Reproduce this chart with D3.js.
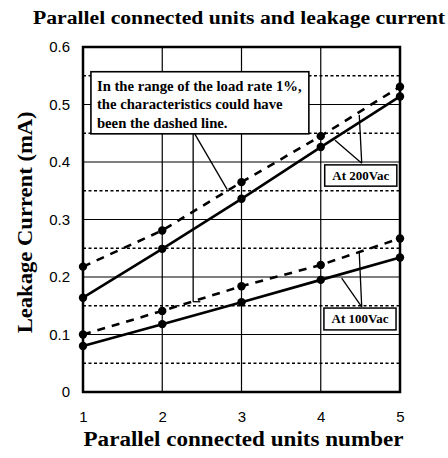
<!DOCTYPE html>
<html>
<head>
<meta charset="utf-8">
<script src="https://cdn.jsdelivr.net/npm/d3@7"></script>
<style>
  body { margin: 0; background: #fff; }
  text { fill: #000; }
</style>
</head>
<body>
<script>
// Data
var units = [1, 2, 3, 4, 5];
var solid200 = [0.164, 0.249, 0.336, 0.426, 0.514];
var dashed200 = [0.218, 0.281, 0.365, 0.445, 0.531];
var solid100 = [0.080, 0.118, 0.156, 0.195, 0.234];
var dashed100 = [0.100, 0.141, 0.184, 0.221, 0.267];
var yTicks = [0, 0.1, 0.2, 0.3, 0.4, 0.5, 0.6];
var yMinor = [0.05, 0.15, 0.25, 0.35, 0.45, 0.55];
var noteLines = ["In the range of the load rate 1%,", "the characteristics  could have", "been the dashed line."];

var svg = d3.select("body").append("svg").attr("width", 448).attr("height", 458);

var x = d3.scaleLinear().domain([1, 5]).range([83, 400]);
var y = d3.scaleLinear().domain([0, 0.6]).range([392, 47]);

var serif = "'Liberation Serif', 'Times New Roman', serif";
var sans = "'Liberation Sans', Arial, sans-serif";

// Title
svg.append("text").text("Parallel connected units and leakage current")
    .attr("x", 239).attr("y", 24).attr("text-anchor", "middle")
    .style("font-family", serif).style("font-weight", "bold").style("font-size", "18px")
    .attr("textLength", 412).attr("lengthAdjust", "spacingAndGlyphs");

// Grid: dotted minor lines
svg.append("g").selectAll("line").data(yMinor).enter().append("line")
    .attr("x1", x(1)).attr("x2", x(5))
    .attr("y1", function(d) { return y(d); }).attr("y2", function(d) { return y(d); })
    .attr("stroke", "#000").attr("stroke-width", 1.3).attr("stroke-dasharray", "3,2.5");

// Grid: solid major lines
svg.append("g").selectAll("line").data(yTicks.slice(1, 6)).enter().append("line")
    .attr("x1", x(1)).attr("x2", x(5))
    .attr("y1", function(d) { return y(d); }).attr("y2", function(d) { return y(d); })
    .attr("stroke", "#000").attr("stroke-width", 1.2);
svg.append("g").selectAll("line").data(units.slice(1, 4)).enter().append("line")
    .attr("x1", function(d) { return x(d); }).attr("x2", function(d) { return x(d); })
    .attr("y1", y(0)).attr("y2", y(0.6))
    .attr("stroke", "#000").attr("stroke-width", 1.2);

// Axes (labels only, frame drawn separately)
var yAxis = svg.append("g").attr("transform", "translate(" + (x(1) - 13) + ",0)")
    .call(d3.axisLeft(y).tickValues(yTicks).tickSize(0).tickFormat(function(d) { return d === 0 ? "0" : d3.format(".1f")(d); }));
yAxis.select(".domain").remove();
yAxis.selectAll("text").style("font-family", sans).style("font-size", "15px").attr("x", 0);

var xAxis = svg.append("g").attr("transform", "translate(0," + (y(0) + 16) + ")")
    .call(d3.axisBottom(x).tickValues(units).tickSize(0).tickFormat(d3.format("d")));
xAxis.select(".domain").remove();
xAxis.selectAll("text").style("font-family", sans).style("font-size", "15px").attr("dy", "0.71em");

// Frame
svg.append("rect").attr("x", x(1)).attr("y", y(0.6))
    .attr("width", x(5) - x(1)).attr("height", y(0) - y(0.6))
    .attr("fill", "none").attr("stroke", "#000").attr("stroke-width", 2.5);

// Axis titles
svg.append("text").text("Parallel connected units number")
    .attr("x", (x(1) + x(5)) / 2 + 2).attr("y", 446).attr("text-anchor", "middle")
    .style("font-family", serif).style("font-weight", "bold").style("font-size", "20px")
    .attr("textLength", 320).attr("lengthAdjust", "spacingAndGlyphs");
svg.append("text").text("Leakage Current (mA)")
    .attr("transform", "translate(32," + y(0.295) + ") rotate(-90)").attr("text-anchor", "middle")
    .style("font-family", serif).style("font-weight", "bold").style("font-size", "20px")
    .attr("textLength", 222).attr("lengthAdjust", "spacingAndGlyphs");

// Series
var series = [
    { v: dashed200, dash: "8,7" },
    { v: solid200, dash: null },
    { v: dashed100, dash: "8,7" },
    { v: solid100, dash: null }
];
var line = d3.line().x(function(d) { return x(d[0]); }).y(function(d) { return y(d[1]); });

series.forEach(function(s) {
    var pts = d3.zip(units, s.v);
    svg.append("path").datum(pts).attr("d", line)
        .attr("fill", "none").attr("stroke", "#000").attr("stroke-width", 2.6)
        .attr("stroke-dasharray", s.dash);
    svg.append("g").selectAll("circle").data(pts).enter().append("circle")
        .attr("cx", function(d) { return x(d[0]); }).attr("cy", function(d) { return y(d[1]); })
        .attr("r", 4.2).attr("fill", "#000");
});

// Annotation: note box
var note = svg.append("g");
note.append("line").attr("x1", x(2.39)).attr("y1", y(0.449)).attr("x2", x(2.39)).attr("y2", y(0.157))
    .attr("stroke", "#000").attr("stroke-width", 1.3);
note.append("line").attr("x1", x(2.39)).attr("y1", y(0.157)).attr("x2", x(2.48)).attr("y2", y(0.157))
    .attr("stroke", "#000").attr("stroke-width", 1.3);
note.append("line").attr("x1", x(2.41)).attr("y1", y(0.449)).attr("x2", x(2.82)).attr("y2", y(0.352))
    .attr("stroke", "#000").attr("stroke-width", 1.3);
note.append("rect").attr("x", x(1.10)).attr("y", y(0.557))
    .attr("width", x(3.85) - x(1.10)).attr("height", y(0.449) - y(0.557))
    .attr("fill", "#fff").attr("stroke", "#000").attr("stroke-width", 1.6);
note.selectAll("text").data(noteLines).enter().append("text")
    .text(function(d) { return d; })
    .attr("x", x(1.10) + 6).attr("y", function(d, i) { return y(0.557) + 19 + i * 18.5; })
    .style("font-family", serif).style("font-weight", "bold").style("font-size", "14.7px");

// Voltage labels
var labels = [
    { t: "At 200Vac", box: [4.05, 4.96, 0.395, 0.358], from: [4.517, 0.398], to: [[4.486, 0.482], [4.18, 0.438]] },
    { t: "At 100Vac", box: [4.04, 4.95, 0.146, 0.108], from: [4.517, 0.148], to: [[4.486, 0.242], [4.264, 0.198]] }
];
labels.forEach(function(l) {
    var g = svg.append("g");
    l.to.forEach(function(p) {
        g.append("line").attr("x1", x(l.from[0])).attr("y1", y(l.from[1]))
            .attr("x2", x(p[0])).attr("y2", y(p[1]))
            .attr("stroke", "#000").attr("stroke-width", 1.3);
    });
    g.append("rect").attr("x", x(l.box[0])).attr("y", y(l.box[2]))
        .attr("width", x(l.box[1]) - x(l.box[0])).attr("height", y(l.box[3]) - y(l.box[2]))
        .attr("fill", "#fff").attr("stroke", "#000").attr("stroke-width", 1.5);
    g.append("text").text(l.t)
        .attr("x", (x(l.box[0]) + x(l.box[1])) / 2).attr("y", (y(l.box[2]) + y(l.box[3])) / 2 + 4.5)
        .attr("text-anchor", "middle")
        .style("font-family", serif).style("font-weight", "bold").style("font-size", "13px");
});
</script>
</body>
</html>
